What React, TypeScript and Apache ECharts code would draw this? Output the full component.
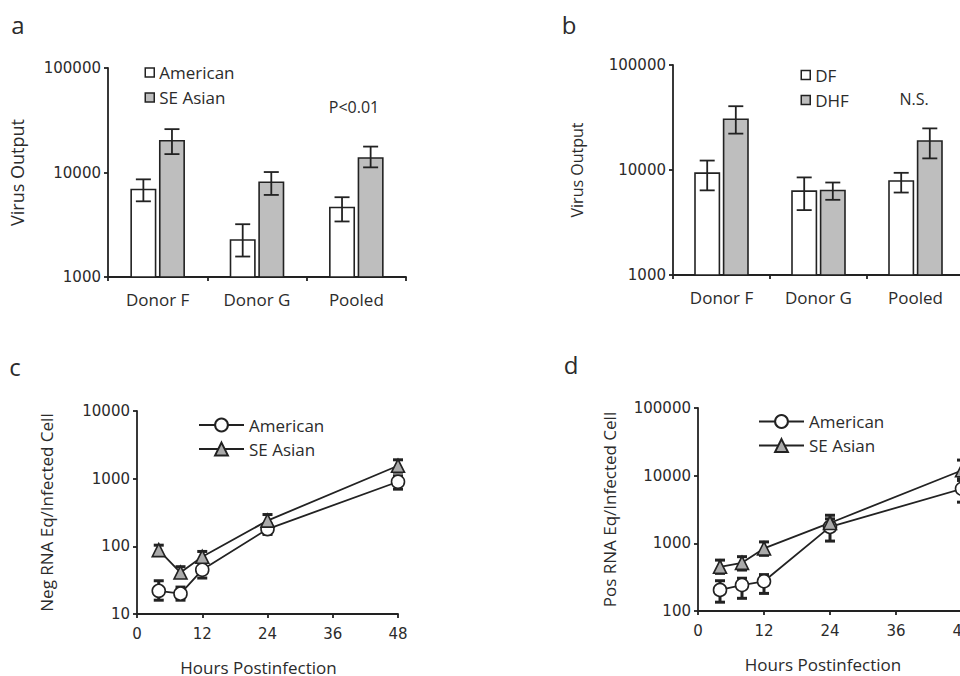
import React, { useEffect, useRef } from 'react';
import * as echarts from 'echarts';

// ---------- data ----------
const barCategories = ['Donor F', 'Donor G', 'Pooled'];
const barTicks = [1000, 10000, 100000];

const americanOutput = [7000, 2300, 4700];
const americanOutputLow = [5300, 1570, 3400];
const americanOutputHigh = [8600, 3200, 5800];
const seAsianOutput = [20500, 8200, 14000];
const seAsianOutputLow = [15000, 6100, 11200];
const seAsianOutputHigh = [26000, 10100, 17700];

const dfOutput = [9500, 6400, 8000];
const dfOutputLow = [6400, 4150, 6100];
const dfOutputHigh = [12300, 8500, 9400];
const dhfOutput = [31000, 6500, 19200];
const dhfOutputLow = [22200, 5200, 12900];
const dhfOutputHigh = [40500, 7600, 24900];

const hours = [4, 8, 12, 24, 48];
const hourTicks = [0, 12, 24, 36, 48];

const negAmerican = [22, 20, 45, 180, 900];
const negAmericanLow = [16, 16, 34, 150, 700];
const negAmericanHigh = [31, 25, 57, 215, 1100];
const negSEAsian = [88, 41, 70, 240, 1550];
const negSEAsianLow = [74, 36, 58, 195, 1250];
const negSEAsianHigh = [104, 50, 84, 295, 1900];

const posAmerican = [205, 242, 275, 1750, 6400];
const posAmericanLow = [135, 154, 182, 1080, 4060];
const posAmericanHigh = [280, 305, 345, 2300, 9000];
const posSEAsian = [450, 515, 840, 2000, 12000];
const posSEAsianLow = [360, 403, 665, 1570, 8500];
const posSEAsianHigh = [565, 635, 1050, 2600, 17000];

// ---------- styles ----------
const FONT = '"Open Sans", sans-serif';
const NUM_FONT = '"DejaVu Sans", sans-serif';
const INK = '#222';
const TEXT = '#2b2b2b';
const GRAY = '#bebebe';
const TRI_GRAY = '#aaaaaa';

const BAR_W = 26;
const BAR_GAP = 0.1;
const BAR_OFF = (BAR_W + BAR_W * BAR_GAP) / 2;

function errorRenderer(offset: number, capHalf: number, lw: number) {
  return (_params: any, api: any) => {
    const x = api.value(0);
    const lo = api.coord([x, api.value(1)]);
    const hi = api.coord([x, api.value(2)]);
    const cx = lo[0] + offset;
    const style = { stroke: INK, lineWidth: lw, fill: 'none' };
    return {
      type: 'group',
      children: [
        { type: 'line', shape: { x1: cx, y1: lo[1], x2: cx, y2: hi[1] }, style },
        { type: 'line', shape: { x1: cx - capHalf, y1: lo[1], x2: cx + capHalf, y2: lo[1] }, style },
        { type: 'line', shape: { x1: cx - capHalf, y1: hi[1], x2: cx + capHalf, y2: hi[1] }, style },
      ],
    };
  };
}

const zip3 = (xs: number[], lo: number[], hi: number[]) => xs.map((x, i) => [x, lo[i], hi[i]]);
const idx = (arr: any[]) => arr.map((_, i) => i);
const pairs = (xs: number[], ys: number[]) => xs.map((x, i) => [x, ys[i]]);
const strip = (name: string) => name.slice(2);

function catX(gi: number) {
  return {
    type: 'category',
    gridIndex: gi,
    data: barCategories,
    axisLine: { show: true, lineStyle: { color: INK, width: 1.8 } },
    axisTick: { show: true, length: 4, lineStyle: { color: INK, width: 1.8 } },
    axisLabel: { color: TEXT, fontFamily: FONT, fontSize: 17, margin: 14 },
    splitLine: { show: false },
  };
}

function valX(gi: number, name: string, padRight: number) {
  return {
    type: 'value',
    gridIndex: gi,
    min: hourTicks[0],
    max: hourTicks[hourTicks.length - 1],
    interval: 12,
    name,
    nameLocation: 'middle',
    nameGap: 45,
    nameTextStyle: {
      color: TEXT,
      fontFamily: FONT,
      fontSize: 17,
      lineHeight: 17,
      padding: [0, padRight, 0, 0],
    },
    axisLine: { show: true, lineStyle: { color: INK, width: 1.8 } },
    axisTick: { show: true, length: 4, lineStyle: { color: INK, width: 1.8 } },
    axisLabel: { color: TEXT, fontFamily: NUM_FONT, fontSize: 15, margin: 12 },
    splitLine: { show: false },
  };
}

function logY(gi: number, min: number, max: number, name: string, nameGap: number, nameSize: number) {
  return {
    type: 'log',
    logBase: 10,
    gridIndex: gi,
    min,
    max,
    name,
    nameLocation: 'middle',
    nameRotate: 90,
    nameGap,
    nameTextStyle: { color: TEXT, fontFamily: FONT, fontSize: nameSize },
    axisLine: { show: true, lineStyle: { color: INK, width: 1.8 } },
    axisTick: { show: true, length: 4, lineStyle: { color: INK, width: 1.8 } },
    minorTick: { show: false },
    splitLine: { show: false },
    axisLabel: {
      color: TEXT,
      fontFamily: NUM_FONT,
      fontSize: 15,
      margin: 7,
      formatter: (v: number) => String(Math.round(v)),
    },
  };
}

function barSeries(name: string, values: number[], color: string, gi: number) {
  return {
    type: 'bar',
    name,
    xAxisIndex: gi,
    yAxisIndex: gi,
    data: values,
    barWidth: BAR_W,
    barGap: `${BAR_GAP * 100}%`,
    itemStyle: { color, borderColor: INK, borderWidth: 1.6 },
    z: 2,
  };
}

function barErr(name: string, lo: number[], hi: number[], gi: number, offset: number) {
  return {
    type: 'custom',
    name: name + ' err',
    xAxisIndex: gi,
    yAxisIndex: gi,
    data: zip3(idx(barCategories), lo, hi),
    encode: { x: 0, y: [1, 2] },
    renderItem: errorRenderer(offset, 7.5, 1.8),
    z: 3,
    silent: true,
  };
}

function lineSeries(name: string, ys: number[], gi: number, symbol: string, fill: string) {
  return {
    type: 'line',
    name,
    xAxisIndex: gi,
    yAxisIndex: gi,
    data: pairs(hours, ys),
    symbol,
    symbolSize: 13,
    showAllSymbol: true,
    lineStyle: { color: INK, width: 1.8 },
    itemStyle: { color: fill, borderColor: INK, borderWidth: 1.6 },
    z: 4,
  };
}

function lineErr(name: string, lo: number[], hi: number[], gi: number) {
  return {
    type: 'custom',
    name: name + ' err',
    xAxisIndex: gi,
    yAxisIndex: gi,
    data: zip3(hours, lo, hi),
    encode: { x: 0, y: [1, 2] },
    renderItem: errorRenderer(0, 5, 3),
    z: 1,
    silent: true,
  };
}

function legend(names: string[], left: number, top: number, line: boolean) {
  return {
    data: names,
    orient: 'vertical',
    left,
    top,
    padding: 0,
    itemWidth: line ? 45 : 9,
    itemHeight: line ? 16 : 9,
    itemGap: line ? 4 : 5,
    selectedMode: false,
    formatter: strip,
    ...(line ? {} : { icon: 'rect', itemStyle: { borderColor: INK, borderWidth: 1.5 } }),
    textStyle: { color: TEXT, fontFamily: FONT, fontSize: 17, lineHeight: 20 },
  };
}

function label(text: string, x: number, y: number, size: number) {
  return {
    type: 'text',
    x,
    y,
    style: {
      text,
      fill: TEXT,
      font: `${size}px "Open Sans", sans-serif`,
      textAlign: 'center',
      align: 'center',
      textVerticalAlign: 'middle',
      verticalAlign: 'middle',
    },
  };
}

const gridBase = { outerBoundsMode: 'none', containLabel: false };

export default function App() {
  const ref = useRef<HTMLDivElement>(null);

  useEffect(() => {
    if (!ref.current) return;
    const chart = echarts.init(ref.current, null, { renderer: 'svg' });
    chart.setOption({
      animation: false,
      backgroundColor: '#fff',
      grid: [
        { ...gridBase, left: 108, top: 68, width: 298, height: 209 },
        { ...gridBase, left: 673, top: 65, width: 291, height: 210 },
        { ...gridBase, left: 137, top: 411, width: 261, height: 203 },
        { ...gridBase, left: 698, top: 408, width: 264, height: 203 },
      ],
      xAxis: [
        catX(0),
        catX(1),
        valX(2, 'Hours Postinfection', 18),
        valX(3, 'Hours Postinfection', 14),
      ],
      yAxis: [
        logY(0, barTicks[0], barTicks[2], 'Virus Output', 82, 18),
        logY(1, barTicks[0], barTicks[2], 'Virus Output', 88, 16),
        logY(2, 10, 10000, 'Neg RNA Eq/Infected Cell', 82, 17),
        logY(3, 100, 100000, 'Pos RNA Eq/Infected Cell', 80, 17),
      ],
      legend: [
        legend(['a:American', 'a:SE Asian'], 144.5, 62.5, false),
        legend(['b:DF', 'b:DHF'], 800.5, 65, false),
        legend(['c:American', 'c:SE Asian'], 198, 415, true),
        legend(['d:American', 'd:SE Asian'], 758, 411.5, true),
      ],
      series: [
        barSeries('a:American', americanOutput, '#ffffff', 0),
        barSeries('a:SE Asian', seAsianOutput, GRAY, 0),
        barErr('a:American', americanOutputLow, americanOutputHigh, 0, -BAR_OFF),
        barErr('a:SE Asian', seAsianOutputLow, seAsianOutputHigh, 0, BAR_OFF),

        barSeries('b:DF', dfOutput, '#ffffff', 1),
        barSeries('b:DHF', dhfOutput, GRAY, 1),
        barErr('b:DF', dfOutputLow, dfOutputHigh, 1, -BAR_OFF),
        barErr('b:DHF', dhfOutputLow, dhfOutputHigh, 1, BAR_OFF),

        lineErr('c:American', negAmericanLow, negAmericanHigh, 2),
        lineErr('c:SE Asian', negSEAsianLow, negSEAsianHigh, 2),
        lineSeries('c:American', negAmerican, 2, 'circle', '#ffffff'),
        lineSeries('c:SE Asian', negSEAsian, 2, 'triangle', TRI_GRAY),

        lineErr('d:American', posAmericanLow, posAmericanHigh, 3),
        lineErr('d:SE Asian', posSEAsianLow, posSEAsianHigh, 3),
        lineSeries('d:American', posAmerican, 3, 'circle', '#ffffff'),
        lineSeries('d:SE Asian', posSEAsian, 3, 'triangle', TRI_GRAY),
      ],
      graphic: [
        label('a', 18, 24, 24),
        label('b', 569, 24, 24),
        label('c', 15, 366, 24),
        label('d', 571, 364, 24),
        label('P<0.01', 354, 107, 16),
        label('N.S.', 914, 99, 16),
      ],
    });
    return () => chart.dispose();
  }, []);

  return (
    <div
      ref={ref}
      style={{ position: 'fixed', left: 0, top: 0, width: 960, height: 676, background: '#fff' }}
    />
  );
}
